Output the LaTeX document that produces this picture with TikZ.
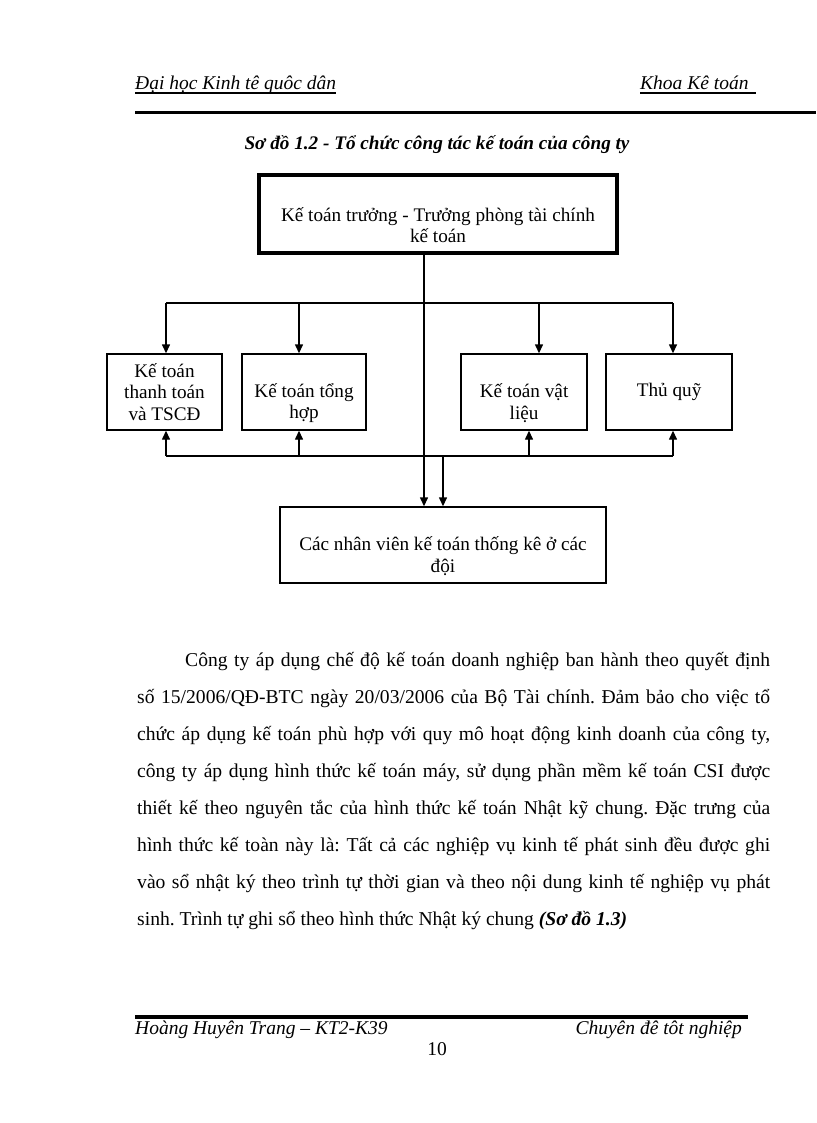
\documentclass[tikz,border=0pt]{standalone}
\usepackage{fontspec}
\setmainfont{Liberation Serif}
\usetikzlibrary{shapes,arrows,arrows.meta}
\usetikzlibrary{positioning}
\newcommand{\boxfont}{\fontsize{19.2}{21.5}\selectfont}
\newcommand{\bodyfont}{\fontsize{19.6}{37}\selectfont\frenchspacing}
\newcommand{\pagefont}{\fontsize{19.5}{22}\selectfont}
\newcommand{\lowered}{\rule{0pt}{15pt}\\}
\tikzstyle{arrow} = [-{Triangle[length=9pt,width=8pt]}, line width=1.4pt]
\tikzstyle{line} = [draw, line width=1.4pt]
\tikzstyle{unit} = [rectangle, draw, line width=1.4pt, minimum height=76pt,
   inner sep=2pt, align=center, font=\boxfont]
\tikzstyle{chief} = [unit, line width=4pt, minimum width=358pt, minimum height=78pt]
\tikzstyle{pagetext} = [inner sep=0pt, font=\pagefont\itshape]
\tikzstyle{rule} = [line width=3pt]

\begin{document}
\begin{tikzpicture}[x=1pt, y=-1pt, node distance=1.2cm]
\useasboundingbox[fill=white] (0,0) rectangle (816,1123);

\node (hl) [pagetext, anchor=base west] at (135,90) {Đại học Kinh tê quôc dân};
\node (hr) [pagetext, anchor=base west] at (640,90) {Khoa Kê toán};
\coordinate (hrend) at (756,93);
\draw [line width=1.2pt] ([yshift=-3pt]hl.base west) -- ([yshift=-3pt]hl.base east);
\draw [line width=1.2pt] ([yshift=-3pt]hr.base west) -- (hrend);
\coordinate (rl) at (135,113);
\coordinate (rr) at (816,113);
\draw [rule] (rl) -- (rr);

\node (title) [anchor=base, font=\fontsize{19.2}{22}\selectfont\bfseries\itshape] at (437,150) {Sơ đồ 1.2 - Tổ chức công tác kế toán của công ty};

\node (ktt) [chief] at (438,214) {\lowered Kế toán trưởng - Trưởng phòng tài chính\\kế toán};

\node (b1) [unit, minimum width=115pt] at (164.5,392) {Kế toán\\thanh toán\\và TSCĐ};
\node (b2) [unit, minimum width=124pt, right of=b1, xshift=105.4pt] {\lowered Kế toán tổng\\hợp};
\node (b3) [unit, minimum width=126pt, right of=b2, xshift=185.9pt] {\lowered Kế toán vật\\liệu};
\node (b4) [unit, minimum width=126pt, right of=b3, xshift=110.9pt] {Thủ quỹ};

\node (nv) [unit, minimum width=326pt] at (443,545) {\lowered Các nhân viên kế toán thống kê ở các\\đội};

\coordinate (trk) at (424,303);
\coordinate (trk2) at (443,456);
\coordinate (up1) at (166,303);
\coordinate (up4) at (673,303);
\coordinate (lo1) at (166,456);
\coordinate (lo4) at (673,456);
\draw [line] (up1) -- (up4);
\draw [line] (lo1) -- (lo4);
\draw [arrow] (ktt.south -| trk) -- (trk |- nv.north);
\draw [arrow] (trk2) -- (trk2 |- nv.north);
\foreach \x/\b in {166/b1,299/b2,539/b3,673/b4}{
  \coordinate (d\b) at (\x,303);
  \draw [arrow] (d\b) -- (d\b |- \b.north);
}
\foreach \x/\b in {166/b1,299/b2,529/b3,673/b4}{
  \coordinate (u\b) at (\x,456);
  \draw [arrow] (u\b) -- (u\b |- \b.south);
}

\node (para) [anchor=base west, inner sep=0pt, text width=633pt, align=justify, font=\bodyfont] at (137,666) {\hspace*{48pt}Công ty áp dụng chế độ kế toán doanh nghiệp ban hành theo quyết định\linebreak
số 15/2006/QĐ-BTC ngày 20/03/2006 của Bộ Tài chính. Đảm bảo cho việc tổ\linebreak
chức áp dụng kế toán phù hợp với quy mô hoạt động kinh doanh của công ty,\linebreak
công ty áp dụng hình thức kế toán máy, sử dụng phần mềm kế toán CSI được\linebreak
thiết kế theo nguyên tắc của hình thức kế toán Nhật kỹ chung. Đặc trưng của\linebreak
hình thức kế toàn này là: Tất cả các nghiệp vụ kinh tế phát sinh đều được ghi\linebreak
vào sổ nhật ký theo trình tự thời gian và theo nội dung kinh tế nghiệp vụ phát\linebreak
sinh. Trình tự ghi sổ theo hình thức Nhật ký chung \textbf{\textit{(Sơ đồ 1.3)}}};

\coordinate (fl) at (135,1017);
\coordinate (fr) at (748,1017);
\draw [line width=4pt] (fl) -- (fr);
\node (fleft) [pagetext, anchor=base west] at (135,1034) {Hoàng Huyên Trang – KT2-K39};
\node (fright) [pagetext, anchor=base east] at (742,1034) {Chuyên đê tôt nghiệp};
\node (pg) [inner sep=0pt, anchor=base, font=\pagefont] at (437,1055) {10};

\end{tikzpicture}
\end{document}
